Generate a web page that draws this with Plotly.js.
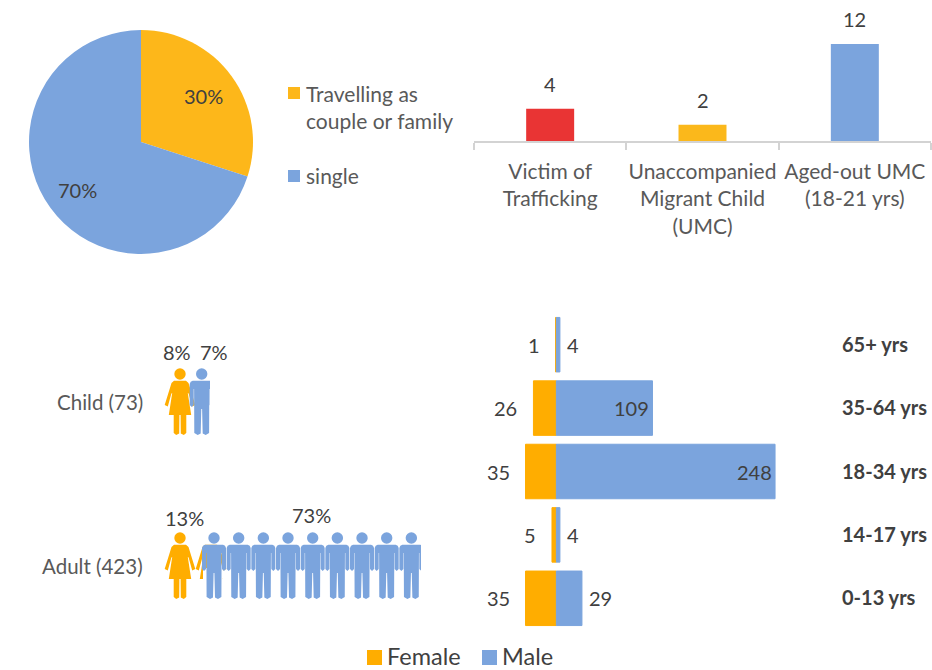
<!DOCTYPE html>
<html>
<head>
<meta charset="utf-8">
<script src="https://cdn.plot.ly/plotly-3.0.1.min.js"></script>
<style>html,body{margin:0;padding:0;background:#fff}#c{width:932px;height:670px}</style>
</head>
<body>
<div id="c"></div>
<script>
// ---------- data ----------
var travelLabels = ['Travelling as<br>couple or family', 'single'];
var travelValues = [30, 70];
var travelColors = ['#FDB71A', '#7BA4DD'];

var vulnCategories = ['Victim of<br>Trafficking', 'Unaccompanied<br>Migrant Child<br>(UMC)', 'Aged-out UMC<br>(18-21 yrs)'];
var vulnValues = [4, 2, 12];
var vulnColors = ['#E93434', '#FBB81B', '#7BA4DD'];

var ageGroups = ['65+ yrs', '35-64 yrs', '18-34 yrs', '14-17 yrs', '0-13 yrs'];
var femaleCounts = [1, 26, 35, 5, 35];
var maleCounts = [4, 109, 248, 4, 29];

var FEMALE = '#FFAD00', MALE = '#7BA4DD';
var FONT = 'Lato, "Open Sans", sans-serif';
var TXT = '#595959', VAL = '#404040';
var W = 932, H = 670;

function px(x){return x/W;}
function py(y){return 1-y/H;}

var traces = [
  {type:'pie', labels:travelLabels, values:travelValues, sort:false, direction:'clockwise', rotation:0,
   marker:{colors:travelColors, line:{width:0}},
   domain:{x:[px(29),px(253)], y:[py(254),py(30)]},
   textinfo:'none', showlegend:false, hoverinfo:'label+percent'},
  {type:'bar', x:vulnCategories, y:vulnValues, xaxis:'x', yaxis:'y', width:0.315,
   marker:{color:vulnColors}, showlegend:false, hoverinfo:'x+y'},
  {type:'bar', orientation:'h', name:'Female', y:ageGroups, x:femaleCounts.map(function(v){return -v;}),
   xaxis:'x2', yaxis:'y2', marker:{color:FEMALE, line:{color:FEMALE,width:1}}, showlegend:false, customdata:femaleCounts,
   hovertemplate:'Female %{y}: %{customdata}<extra></extra>'},
  {type:'bar', orientation:'h', name:'Male', y:ageGroups, x:maleCounts,
   xaxis:'x2', yaxis:'y2', marker:{color:MALE, line:{color:MALE,width:1}}, showlegend:false,
   hovertemplate:'Male %{y}: %{x}<extra></extra>'},
  {type:'scatter', x:[0], y:[0], xaxis:'x3', yaxis:'y3', mode:'none', showlegend:false, hoverinfo:'skip'}
];

// ---------- pictogram icons ----------
var shapes = [];
function womanPath(cx, cy, legs){
  var P = [[0.6,41],[6.3,41],[6.3,59],[3.8,61],[0.8,59.5],[0.6,41]];
  var R = [[8.5,9],[15.3,31],[12.2,32.5],[8.6,19.5],[7.8,19],[11.2,41]];
  var pts = [[0,6.7],[6,6.7]].concat(R).concat(legs?P:[[0,41]]);
  var left = pts.slice().reverse().map(function(p){return [-p[0],p[1]];});
  var all = pts.concat(left);
  return 'M'+all.map(function(p){return (cx+p[0])+','+(cy+p[1]);}).join(' L')+' Z';
}
function manPath(cx, cy){
  var pts = [[0,6.7],[9,6.7],[11,7.8],[12,10],[12,31],[10,33],[8,31],[8,15],[7.6,15],[7.4,59],[4,61],[1,59.5],[0.4,35],[0,35]];
  var left = pts.slice().reverse().map(function(p){return [-p[0],p[1]];});
  var all = pts.concat(left);
  return 'M'+all.map(function(p){return (cx+p[0])+','+(cy+p[1]);}).join(' L')+' Z';
}
function addHead(cx, cy, color){
  var r = 5.7;
  shapes.push({type:'circle', xref:'x3', yref:'y3', x0:cx-r, x1:cx+r, y0:cy-r, y1:cy+r,
    fillcolor:color, line:{width:0}, layer:'above'});
}
function addPath(path, color){
  shapes.push({type:'path', xref:'x3', yref:'y3', path:path, fillcolor:color, line:{width:0}, layer:'above'});
}
function addWoman(cx, cy, whole){
  if(whole) addHead(cx, cy, FEMALE);
  addPath(womanPath(cx, cy, whole), FEMALE);
}
function addMan(cx, cy){
  addHead(cx, cy, MALE);
  addPath(manPath(cx, cy), MALE);
}
function mask(x0, x1, y0, y1){
  shapes.push({type:'rect', xref:'x3', yref:'y3', x0:x0, x1:x1, y0:y0, y1:y1,
    fillcolor:'#fff', line:{width:0}, layer:'above'});
}
function swatch(x0, y0, size, color){
  shapes.push({type:'rect', xref:'x3', yref:'y3', x0:x0, x1:x0+size, y0:y0, y1:y0+size,
    fillcolor:color, line:{width:0}, layer:'above'});
}
// child row
addWoman(180, 374, true);
addMan(201.7, 374);
mask(210, 216, 360, 440);
// adult row
addWoman(180, 538, true);
addWoman(211, 538, false);
mask(203, 222, 568, 584);
for (var i = 0; i < 9; i++) addMan(214 + i*24.67, 538);
mask(421, 426, 525, 605);

// ---------- annotations ----------
var annotations = [];
function note(text, x, y, anchor, color, size){
  annotations.push({xref:'x3', yref:'y3', x:x, y:y, text:text, showarrow:false,
    xanchor:anchor||'center', yanchor:'middle', font:{family:FONT,size:size||20,color:color||VAL}});
}
note('8%', 177, 352);
note('7%', 214, 352);
note('13%', 184, 518);
note('73%', 311, 515);
note('Child (73)', 145, 402, 'right', TXT, 20.5);
note('Adult (423)', 145, 566, 'right', TXT, 20.5);
note(travelValues[0]+'%', 203, 96);
note(travelValues[1]+'%', 77, 190);

// pie legend
swatch(288, 87, 12, travelColors[0]);
swatch(288, 170, 12, travelColors[1]);
annotations.push({xref:'x3', yref:'y3', x:304, y:106.5, text:travelLabels[0], showarrow:false, xanchor:'left', yanchor:'middle',
  align:'left', font:{family:FONT,size:21,color:TXT}});
note(travelLabels[1], 304, 175.5, 'left', TXT, 21);
// sex legend
swatch(367, 650, 15, FEMALE);
swatch(482, 650, 15, MALE);
note('Female', 385, 655.5, 'left', VAL, 23.5);
note('Male', 500, 655.5, 'left', VAL, 23.5);

vulnCategories.forEach(function(c, k){
  annotations.push({xref:'x', yref:'y', x:c, y:vulnValues[k], text:String(vulnValues[k]), showarrow:false,
    yanchor:'bottom', yshift:11, font:{family:FONT,size:20,color:VAL}});
});
ageGroups.forEach(function(g, k){
  annotations.push({xref:'x2', yref:'y2', x:-femaleCounts[k], y:g, text:String(femaleCounts[k]), showarrow:false,
    xanchor:'right', xshift:-14, font:{family:FONT,size:20,color:VAL}});
  var m = maleCounts[k], inside = m > 100;
  annotations.push({xref:'x2', yref:'y2', x:m, y:g, text:String(m), showarrow:false,
    xanchor:inside?'right':'left', xshift:inside?-1:5, font:{family:FONT,size:20,color:VAL}});
});

var layout = {
  width:W, height:H, margin:{l:0,r:0,t:0,b:0,autoexpand:false}, paper_bgcolor:'#fff', plot_bgcolor:'rgba(0,0,0,0)',
  font:{family:FONT,size:20,color:TXT}, showlegend:false,
  barmode:'overlay', bargap:0.14,
  xaxis:{domain:[px(474),px(931)], anchor:'y', type:'category', range:[-0.5,2.5], showgrid:false, zeroline:false,
    showline:true, linecolor:'#D3D3D3', linewidth:1.5, ticks:'outside', tickson:'boundaries', ticklen:7, tickcolor:'#D3D3D3', tickwidth:1.5,
    tickangle:0, tickfont:{family:FONT,size:21,color:TXT}, ticklabelstandoff:11, fixedrange:true},
  yaxis:{domain:[py(141),1], anchor:'x', range:[0,17.45], visible:false, fixedrange:true},
  xaxis2:{domain:[px(470.5),px(838)], anchor:'y2', range:[-97.4,319.4], visible:false, fixedrange:true},
  yaxis2:{domain:[py(630),py(313)], anchor:'x2', type:'category', categoryorder:'array', categoryarray:ageGroups, range:[4.5,-0.5],
    side:'right', position:1, showgrid:false, zeroline:false, showline:false, ticks:'', fixedrange:true,
    tickfont:{family:FONT,size:20,color:VAL,weight:700}, ticklabelstandoff:3},
  xaxis3:{domain:[0,1], anchor:'y3', range:[0,W], visible:false, fixedrange:true},
  yaxis3:{domain:[0,1], anchor:'x3', range:[H,0], visible:false, fixedrange:true},
  shapes:shapes, annotations:annotations
};
Plotly.newPlot('c', traces, layout, {displayModeBar:false});
</script>
</body>
</html>
